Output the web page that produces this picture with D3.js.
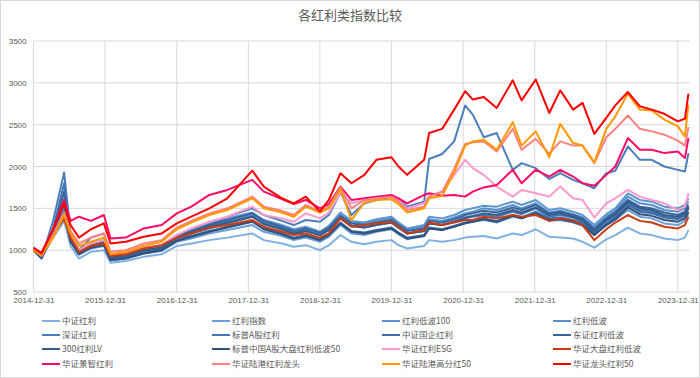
<!DOCTYPE html>
<html><head><meta charset="utf-8">
<script src="https://cdn.jsdelivr.net/npm/d3@7"></script>
<style>
html,body{margin:0;padding:0;background:#fff;}
svg{display:block;font-family:"Noto Sans CJK SC","Noto Sans",sans-serif;}
</style></head>
<body><svg id="c" width="700" height="378"></svg>
<script>
const title = "各红利类指数比较";
const yTicks = [500,1000,1500,2000,2500,3000,3500];
const xTickLabels = ["2014-12-31","2015-12-31","2016-12-31","2017-12-31","2018-12-31","2019-12-31","2020-12-31","2021-12-31","2022-12-31","2023-12-31"];
const dates = ["2014-12-31","2015-02-10","2015-04-10","2015-06-05","2015-07-08","2015-08-20","2015-10-20","2015-12-25","2016-01-28","2016-04-15","2016-07-15","2016-10-15","2016-12-31","2017-03-15","2017-06-15","2017-09-15","2018-01-20","2018-03-20","2018-06-20","2018-08-20","2018-10-20","2018-12-31","2019-02-15","2019-04-15","2019-06-10","2019-08-15","2019-10-15","2019-12-31","2020-02-05","2020-03-20","2020-06-15","2020-07-10","2020-09-15","2020-11-15","2021-01-10","2021-02-18","2021-04-15","2021-06-20","2021-09-10","2021-10-25","2022-01-05","2022-03-15","2022-05-10","2022-07-15","2022-09-01","2022-10-31","2022-12-31","2023-02-15","2023-04-20","2023-06-20","2023-08-20","2023-10-23","2023-12-31","2024-02-05","2024-02-23"];

const seriesNames = ["中证红利","红利指数","红利低波100","红利低波","深证红利","标普A股红利","中证国企红利","东证红利低波","300红利LV","标普中国A股大盘红利低波50","华证红利ESG","华证大盘红利低波","华证景智红利","华证陆港红利龙头","华证陆港高分红50","华证龙头红利50"];
const seriesColors = ["#7eb0e2","#6a9fd8","#5b95d2","#5690cc","#4a7fbd","#4376b3","#3e6ea8","#39649a","#345c8c","#2f527e","#ff99cc","#cc3a10","#ff0a64","#ff8080","#ff9900","#ff0000"];

const zzhl = [1000,900,1150,1350,1050,900,980,1000,850,870,920,950,1050,1080,1120,1150,1200,1120,1080,1040,1060,1000,1060,1180,1100,1070,1100,1120,1060,1020,1050,1120,1100,1120,1150,1160,1170,1140,1200,1180,1250,1160,1150,1140,1100,1030,1130,1180,1270,1200,1180,1140,1120,1150,1240];
const hlzs = [1000,910,1200,1500,1100,950,1020,1050,880,900,960,990,1100,1140,1200,1240,1300,1220,1170,1120,1150,1100,1160,1300,1200,1180,1220,1250,1190,1130,1170,1260,1240,1290,1320,1340,1360,1330,1400,1380,1450,1350,1360,1330,1290,1180,1300,1360,1480,1400,1380,1320,1300,1350,1440];
const hldb100 = [1000,920,1220,1620,1150,980,1060,1100,920,950,1020,1060,1180,1240,1320,1380,1450,1360,1300,1250,1280,1220,1290,1450,1350,1330,1370,1400,1330,1260,1300,1400,1380,1420,1480,1500,1530,1520,1580,1540,1600,1480,1500,1460,1420,1300,1430,1500,1680,1600,1580,1520,1500,1540,1620];
const hldb = [1000,930,1200,1480,1120,960,1040,1080,900,930,1000,1040,1160,1220,1300,1350,1420,1330,1270,1220,1250,1200,1260,1420,1330,1320,1350,1380,1310,1240,1280,1370,1350,1390,1440,1460,1500,1480,1540,1500,1560,1450,1470,1430,1390,1270,1400,1470,1640,1560,1540,1480,1460,1500,1580];
const szhl = [1000,900,1350,1930,1200,1000,1150,1200,950,960,1020,1060,1120,1200,1300,1400,1500,1420,1350,1300,1360,1340,1420,1690,1420,1560,1600,1640,1620,1520,1580,2090,2150,2300,2730,2620,2350,2400,1960,2040,1980,1850,1920,1840,1800,1740,1920,1950,2240,2080,2080,2000,1960,1940,2160];
const bpagh = [1000,920,1250,1800,1180,990,1080,1120,920,940,1000,1040,1140,1200,1260,1320,1400,1320,1250,1200,1230,1180,1240,1380,1290,1270,1300,1330,1270,1200,1230,1320,1300,1340,1380,1400,1420,1400,1460,1430,1500,1400,1420,1390,1340,1220,1350,1410,1560,1480,1460,1400,1380,1420,1500];
const zzgq = [1000,910,1200,1560,1120,960,1040,1070,890,910,970,1010,1120,1170,1230,1280,1350,1260,1200,1150,1180,1130,1190,1330,1230,1210,1240,1270,1210,1150,1180,1270,1250,1290,1330,1350,1380,1350,1420,1390,1460,1380,1390,1360,1320,1200,1320,1390,1540,1460,1440,1390,1370,1410,1500];
const dzhldb = [1000,930,1230,1700,1170,990,1070,1110,920,950,1010,1050,1170,1230,1300,1360,1440,1350,1280,1230,1260,1210,1270,1410,1320,1300,1330,1360,1300,1230,1260,1350,1330,1370,1420,1440,1470,1450,1510,1480,1540,1440,1460,1420,1380,1250,1380,1450,1600,1520,1500,1450,1420,1460,1540];
const hl300lv = [1000,920,1210,1550,1130,970,1050,1090,900,930,990,1030,1150,1210,1280,1330,1400,1310,1250,1200,1230,1180,1240,1380,1290,1270,1300,1330,1270,1200,1230,1320,1300,1340,1390,1410,1440,1420,1480,1450,1510,1420,1440,1400,1360,1230,1360,1430,1580,1500,1480,1420,1400,1440,1520];
const bpzg50 = [1000,910,1190,1460,1100,950,1030,1060,880,900,960,1000,1110,1160,1220,1270,1340,1250,1190,1140,1170,1120,1180,1320,1220,1200,1230,1260,1200,1140,1170,1260,1240,1280,1320,1340,1370,1340,1410,1380,1440,1360,1370,1340,1300,1180,1300,1370,1510,1430,1410,1360,1340,1380,1460];
const hzesg = [1000,930,1180,1450,1180,1000,1080,1120,940,960,1030,1060,1180,1260,1340,1400,1520,1420,1380,1340,1440,1380,1450,1690,1560,1600,1620,1650,1600,1500,1560,1650,1700,1900,2080,1980,1900,1760,1640,1720,1680,1640,1760,1620,1600,1390,1560,1620,1720,1640,1600,1560,1480,1520,1680];
const hzdphldb = [1000,940,1180,1380,1150,980,1050,1080,930,950,1020,1060,1150,1200,1270,1300,1360,1280,1220,1180,1200,1150,1200,1380,1280,1300,1320,1340,1280,1200,1240,1330,1300,1330,1360,1360,1400,1380,1420,1400,1420,1350,1380,1350,1300,1120,1250,1330,1420,1350,1330,1280,1260,1300,1400];
const hzjz = [1020,970,1250,1600,1350,1400,1350,1420,1140,1150,1260,1300,1440,1520,1660,1720,1840,1700,1610,1550,1600,1500,1550,1760,1600,1620,1640,1660,1620,1560,1660,1680,1650,1660,1640,1700,1750,1780,1960,1800,1960,1880,1960,1880,1800,1770,1900,2000,2340,2200,2200,2160,2180,2100,2340];
const hzlglt = [1010,950,1180,1450,1230,1080,1150,1200,980,1000,1080,1120,1270,1350,1440,1500,1640,1520,1470,1420,1540,1460,1520,1750,1500,1600,1620,1640,1580,1480,1520,1640,1700,1970,2270,2290,2300,2180,2450,2200,2330,2150,2300,2250,2250,2040,2350,2450,2610,2450,2420,2380,2310,2250,2470];
const hzlggf50 = [1000,940,1150,1420,1200,1050,1100,1150,950,980,1050,1100,1250,1330,1420,1480,1620,1500,1450,1400,1520,1450,1500,1730,1360,1570,1600,1610,1550,1450,1500,1620,1650,1930,2250,2300,2320,2200,2530,2250,2420,2110,2510,2280,2250,2050,2450,2600,2870,2680,2670,2560,2480,2360,2740];
const hzlt50 = [1030,960,1250,1560,1300,1150,1250,1320,1080,1100,1160,1200,1320,1400,1500,1620,1950,1760,1620,1560,1640,1460,1600,1920,1800,1900,2080,2110,2000,1900,2080,2400,2450,2680,2900,2800,2830,2700,3030,2790,3040,2640,2910,2680,2760,2390,2580,2730,2890,2720,2680,2630,2540,2570,2870];

const seriesValues = [zzhl,hlzs,hldb100,hldb,szhl,bpagh,zzgq,dzhldb,hl300lv,bpzg50,hzesg,hzdphldb,hzjz,hzlglt,hzlggf50,hzlt50];

const parse = d3.timeParse("%Y-%m-%d");
const dts = dates.map(parse);
const svg = d3.select("#c");
const W = 700, H = 378;
const m = {left:33.5, right:690, top:41, bottom:292};

svg.append("rect").attr("x",0.5).attr("y",0.5).attr("width",W-1).attr("height",H-1).attr("fill","#fff").attr("stroke","#d9d9d9");

const x = d3.scaleTime().domain([parse("2014-12-31"), parse("2024-03-02")]).range([m.left, m.right]);
const y = d3.scaleLinear().domain([500,3500]).range([m.bottom, m.top]);

const g = svg.append("g");
g.selectAll("line.h").data(yTicks).enter().append("line")
  .attr("x1",m.left).attr("x2",m.right).attr("y1",d=>y(d)).attr("y2",d=>y(d))
  .attr("stroke","#d9d9d9").attr("stroke-width",1);
g.selectAll("line.v").data(xTickLabels).enter().append("line")
  .attr("x1",d=>x(parse(d))).attr("x2",d=>x(parse(d))).attr("y1",m.top).attr("y2",m.bottom)
  .attr("stroke","#d9d9d9").attr("stroke-width",1);

const yAxis = d3.axisLeft(y).tickValues(yTicks).tickSize(0).tickPadding(7).tickFormat(d3.format("d"));
const ya = svg.append("g").attr("transform",`translate(${m.left},0)`).call(yAxis);
ya.select(".domain").remove();
ya.selectAll("text").attr("fill","#595959").style("font-size","8px").style("font-family","Liberation Sans, Arial, sans-serif");

const xAxis = d3.axisBottom(x).tickValues(xTickLabels.map(parse)).tickSize(0).tickPadding(5).tickFormat(d3.timeFormat("%Y-%m-%d"));
const xa = svg.append("g").attr("transform",`translate(0,${m.bottom})`).call(xAxis);
xa.select(".domain").remove();
xa.selectAll("text").attr("fill","#595959").style("font-size","8px").style("font-family","Liberation Sans, Arial, sans-serif");

const line = d3.line().x((d,i)=>x(dts[i])).y(d=>y(d)).curve(d3.curveLinear);
svg.append("g").selectAll("path").data(seriesValues).enter().append("path")
  .attr("d",d=>line(d)).attr("fill","none")
  .attr("stroke",(d,i)=>seriesColors[i]).attr("stroke-width",2).attr("stroke-linejoin","round");

svg.append("text").attr("x",350).attr("y",20).attr("text-anchor","middle")
  .attr("fill","#595959").style("font-size","13px").text(title);

const colX = [42,212,382,553], rowY = [321,335,349,364];
const lg = svg.append("g").selectAll("g").data(seriesNames).enter().append("g")
  .attr("transform",(d,i)=>`translate(${colX[i%4]},${rowY[Math.floor(i/4)]})`);
lg.append("line").attr("x1",0).attr("x2",18).attr("y1",0).attr("y2",0)
  .attr("stroke",(d,i)=>seriesColors[i]).attr("stroke-width",2);
lg.append("text").attr("x",20).attr("y",3).attr("fill","#595959").style("font-size","8.5px").text(d=>d);
</script></body></html>
